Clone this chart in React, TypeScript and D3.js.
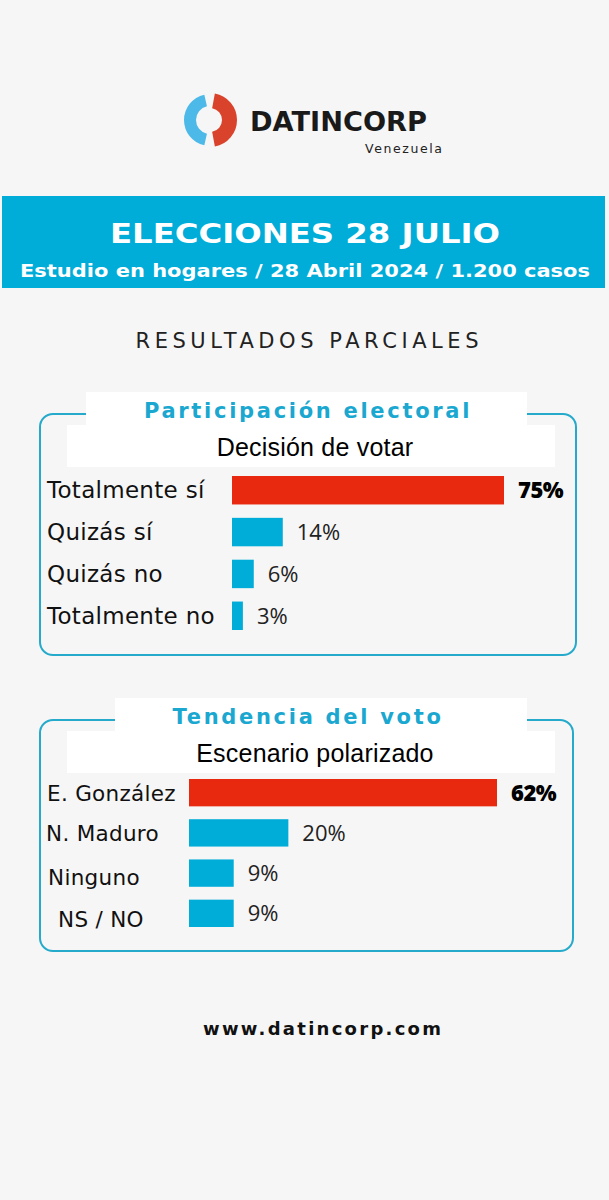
import React from "react";
import * as d3 from "d3";

const W = 609;
const H = 1200;

const decisionCats = ["Totalmente sí", "Quizás sí", "Quizás no", "Totalmente no"];
const decisionVals = [75, 14, 6, 3];

const tendCats = ["E. González", "N. Maduro", "Ninguno", "NS / NO"];
const tendVals = [62, 20, 9, 9];

const RED = "#e9290f";
const BLUE = "#00acd8";
const FRAME = "#25aacb";
const BG = "#f6f6f6";
const LABEL_FONT = "'DejaVu Sans', 'Open Sans', sans-serif";
const VALUE_FONT = "'Open Sans', 'DejaVu Sans', sans-serif";
const HEAVY_FONT = "'DejaVu Sans', 'Open Sans', sans-serif";

function Panel(props: {
  top: number;
  bottom: number;
  left: number;
  right: number;
  titleBox: [number, number];
  title: string;
  subtitle: string;
  cats: string[];
  vals: number[];
  barX: number;
  barRange: [number, number];
  pxPerMax: number;
  maxVal: number;
  labelSize: number;
  labelDy: number[];
  labelDx: number[];
}) {
  const { top, bottom, left, right, titleBox, title, subtitle, cats, vals, barX, barRange, pxPerMax, maxVal, labelSize, labelDy, labelDx } = props;
  const x = d3.scaleLinear().domain([0, maxVal]).range([barX, barX + pxPerMax]);
  const y = d3.scaleBand<string>().domain(cats).range(barRange).paddingInner(0.32).paddingOuter(0);
  const maxIdx = vals.indexOf(d3.max(vals) as number);
  return (
    <g>
      <rect x={left} y={top} width={right - left} height={bottom - top} rx={13} ry={13} fill="none" stroke={FRAME} strokeWidth={2} />
      <rect x={titleBox[0]} y={top - 22} width={titleBox[1] - titleBox[0]} height={34} fill="#ffffff" />
      <rect x={67} y={top + 11} width={555 - 67} height={42} fill="#ffffff" />
      <text x={308} y={top + 4} textAnchor="middle" fontFamily={HEAVY_FONT} fontWeight={700} fontSize={21} letterSpacing={2.7} fill="#1aa7d0">
        {title}
      </text>
      <text x={315} y={top + 42} textAnchor="middle" fontFamily="'Liberation Sans', Arial, sans-serif" fontSize={25} letterSpacing={0.2} fill="#000">
        {subtitle}
      </text>
      {cats.map((c, i) => {
        const yy = y(c) as number;
        const bw = y.bandwidth();
        const end = x(vals[i]);
        const isMax = i === maxIdx;
        return (
          <g key={c}>
            <rect x={barX} y={yy} width={end - barX} height={bw} fill={isMax ? RED : BLUE} />
            <text x={47 + labelDx[i]} y={yy + bw / 2 + 8 + labelDy[i]} fontFamily={LABEL_FONT} fontSize={labelSize} letterSpacing={0.3} fill="#111">
              {c}
            </text>
            <text
              x={end + 14}
              y={yy + bw / 2 + 8}
              fontFamily={VALUE_FONT}
              fontSize={22}
              fontWeight={isMax ? 800 : 400}
              letterSpacing={isMax ? -0.5 : 0}
              fill={isMax ? "#000" : "#222"}
            >
              {vals[i] + "%"}
            </text>
          </g>
        );
      })}
    </g>
  );
}

function Logo() {
  const blueArc = d3.arc()({ innerRadius: 14, outerRadius: 26, startAngle: Math.PI + 0.22, endAngle: 2 * Math.PI - 0.22 }) as string;
  const redArc = d3.arc()({ innerRadius: 12, outerRadius: 27, startAngle: 0.18, endAngle: Math.PI - 0.18 }) as string;
  return (
    <g>
      <g transform="translate(210,120)">
        <path d={blueArc} fill="#4cb9e9" />
        <path d={redArc} fill="#d9432c" />
      </g>
      <text x={250} y={131} fontFamily={HEAVY_FONT} fontWeight={700} fontSize={27} textLength={177} lengthAdjust="spacingAndGlyphs" fill="#1a1a1a">
        DATINCORP
      </text>
      <text x={365} y={153} fontFamily={LABEL_FONT} fontSize={12.5} letterSpacing={1.6} fill="#222">
        Venezuela
      </text>
    </g>
  );
}

export default function App() {
  return (
    <svg width={W} height={H} viewBox={`0 0 ${W} ${H}`} style={{ position: "absolute", left: 0, top: 0, display: "block" }}>
      <rect x={0} y={0} width={W} height={H} fill={BG} />
      <Logo />
      <rect x={2} y={196} width={603} height={92} fill={BLUE} />
      <text x={305} y={243} textAnchor="middle" fontFamily={HEAVY_FONT} fontWeight={900} fontSize={27} textLength={390} lengthAdjust="spacingAndGlyphs" fill="#fff">
        ELECCIONES 28 JULIO
      </text>
      <text x={305} y={277} textAnchor="middle" fontFamily={HEAVY_FONT} fontWeight={700} fontSize={17} textLength={570} lengthAdjust="spacingAndGlyphs" fill="#fff">
        Estudio en hogares / 28 Abril 2024 / 1.200 casos
      </text>
      <text x={307} y={348} textAnchor="middle" fontFamily={LABEL_FONT} fontSize={21} textLength={343} lengthAdjust="spacing" fill="#222">
        RESULTADOS PARCIALES
      </text>
      <Panel
        top={414}
        bottom={655}
        left={40}
        right={576}
        titleBox={[86, 527]}
        title="Participación electoral"
        subtitle="Decisión de votar"
        cats={decisionCats}
        vals={decisionVals}
        barX={232}
        barRange={[476, 630]}
        pxPerMax={272}
        maxVal={75}
        labelSize={23}
        labelDy={[0, 0, 0, 0]}
        labelDx={[0, 0, 0, 0]}
      />
      <Panel
        top={720}
        bottom={951}
        left={40}
        right={573}
        titleBox={[115, 527]}
        title="Tendencia del voto"
        subtitle="Escenario polarizado"
        cats={tendCats}
        vals={tendVals}
        barX={189}
        barRange={[779, 927]}
        pxPerMax={308}
        maxVal={62}
        labelSize={21.5}
        labelDy={[0, 0, 4, 6]}
        labelDx={[0, -1, 1, 11]}
      />
      <text x={322} y={1035} textAnchor="middle" fontFamily={HEAVY_FONT} fontWeight={700} fontSize={18} textLength={238} lengthAdjust="spacing" fill="#111">
        www.datincorp.com
      </text>
    </svg>
  );
}
